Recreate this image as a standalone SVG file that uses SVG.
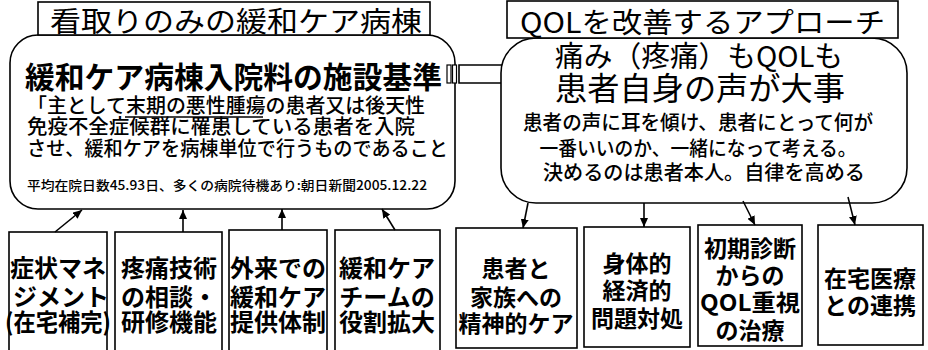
<svg xmlns="http://www.w3.org/2000/svg" width="928" height="350" viewBox="0 0 928 350">
<defs>
<style>
text{font-family:"Noto Sans CJK JP","Noto Sans CJK SC",sans-serif;fill:#000}
.frame{fill:#fff;stroke:#000;stroke-width:1.6}
.box{fill:#fff;stroke:#000;stroke-width:1.6}
.ttl{font-size:28px}
.hd{font-size:30px;font-weight:700}
.body{font-size:20px;font-weight:500}
.note{font-size:13px;font-weight:500}
.lbl{font-size:24px;font-weight:700;text-anchor:middle}
.lbr{font-size:23px;font-weight:700;text-anchor:middle}
.ctr{text-anchor:middle}
.conn{stroke:#000;stroke-width:1.6;fill:none}
</style>
<marker id="ah" markerUnits="userSpaceOnUse" markerWidth="9" markerHeight="8" refX="9" refY="4" orient="auto">
<path d="M0,0 L9,4 L0,8 z" fill="#000"/>
</marker>
</defs>
<rect width="928" height="350" fill="#fff"/>

<g id="left-panel">
<rect class="frame" x="10" y="35" width="445" height="174" rx="28" ry="28"/>
<rect class="box" x="38" y="2" width="392" height="33"/>
<text class="ttl" x="50" y="32" textLength="372" lengthAdjust="spacingAndGlyphs">看取りのみの緩和ケア病棟</text>
<text class="hd" x="25" y="88" textLength="417" lengthAdjust="spacingAndGlyphs">緩和ケア病棟入院料の施設基準</text>
<text class="body" x="27" y="113" textLength="398" lengthAdjust="spacingAndGlyphs">「主として末期の悪性腫瘍の患者又は後天性</text>
<line x1="125" y1="117" x2="263" y2="117" stroke="#000" stroke-width="1.4"/>
<text class="body" x="27" y="134" textLength="388" lengthAdjust="spacingAndGlyphs">免疫不全症候群に罹患している患者を入院</text>
<text class="body" x="27" y="156" textLength="421" lengthAdjust="spacingAndGlyphs">させ、緩和ケアを病棟単位で行うものであること</text>
<text class="note" x="27" y="190" textLength="400" lengthAdjust="spacingAndGlyphs">平均在院日数45.93日、多くの病院待機あり:朝日新聞2005.12.22</text>
</g>

<g id="big-arrow">
<rect x="447" y="65" width="4" height="18" fill="#fff" stroke="#000" stroke-width="1.2"/>
<rect x="452.5" y="65" width="4" height="18" fill="#fff" stroke="#000" stroke-width="1.2"/>
<polygon points="459,65 508,65 508,55 528,73.5 508,92 508,83 459,83" fill="#fff" stroke="#000" stroke-width="1.6"/>
</g>

<g id="right-panel">
<rect class="frame" x="501" y="38" width="406" height="165" rx="35" ry="35"/>
<rect class="box" x="507" y="1" width="391" height="37"/>
<text class="ttl" x="520" y="33" textLength="365" lengthAdjust="spacingAndGlyphs">QOLを改善するアプローチ</text>
<text class="ctr" x="699" y="67" textLength="288" lengthAdjust="spacingAndGlyphs" style="font-size:29px">痛み（疼痛）もQOLも</text>
<text class="ctr" x="700" y="100" textLength="290" lengthAdjust="spacingAndGlyphs" style="font-size:32px">患者自身の声が大事</text>
<text class="body ctr" x="698" y="130" textLength="350" lengthAdjust="spacingAndGlyphs">患者の声に耳を傾け、患者にとって何が</text>
<text class="body ctr" x="698" y="156" textLength="317" lengthAdjust="spacingAndGlyphs">一番いいのか、一緒になって考える。</text>
<text class="body ctr" x="704" y="180" textLength="322" lengthAdjust="spacingAndGlyphs">決めるのは患者本人。自律を高める</text>
</g>

<g id="box1">
<rect class="box" x="9" y="232" width="98" height="130"/>
<text class="lbl" x="58" y="277">症状マネ</text>
<text class="lbl" x="61" y="306">ジメント</text>
<text class="lbl" x="58" y="331" textLength="106" lengthAdjust="spacingAndGlyphs">(在宅補完)</text>
</g>
<g id="box2">
<rect class="box" x="115" y="232" width="107" height="130"/>
<text class="lbl" x="169" y="277">疼痛技術</text>
<text class="lbl" x="169" y="306">の相談・</text>
<text class="lbl" x="169" y="331">研修機能</text>
</g>
<g id="box3">
<rect class="box" x="229" y="230" width="98" height="132"/>
<text class="lbl" x="278" y="277">外来での</text>
<text class="lbl" x="278" y="306">緩和ケア</text>
<text class="lbl" x="278" y="331">提供体制</text>
</g>
<g id="box4">
<rect class="box" x="335" y="230" width="105" height="132"/>
<text class="lbl" x="387" y="277">緩和ケア</text>
<text class="lbl" x="387" y="306">チームの</text>
<text class="lbl" x="387" y="331">役割拡大</text>
</g>
<g id="box5">
<rect class="box" x="456" y="228" width="121" height="120"/>
<text class="lbr" x="516" y="277">患者と</text>
<text class="lbr" x="516" y="306">家族への</text>
<text class="lbr" x="516" y="332">精神的ケア</text>
</g>
<g id="box6">
<rect class="box" x="584" y="227" width="106" height="120"/>
<text class="lbr" x="637" y="272">身体的</text>
<text class="lbr" x="637" y="299">経済的</text>
<text class="lbr" x="637" y="327">問題対処</text>
</g>
<g id="box7">
<rect class="box" x="698" y="225" width="104" height="121"/>
<text class="lbr" x="750" y="257">初期診断</text>
<text class="lbr" x="750" y="284">からの</text>
<text class="lbr" x="750" y="311" textLength="100" lengthAdjust="spacingAndGlyphs">QOL重視</text>
<text class="lbr" x="750" y="339">の治療</text>
</g>
<g id="box8">
<rect class="box" x="818" y="225" width="105" height="120"/>
<text class="lbr" x="870" y="287">在宅医療</text>
<text class="lbr" x="870" y="314">との連携</text>
</g>

<g id="connectors">
<line class="conn" x1="55" y1="232" x2="82" y2="210" marker-end="url(#ah)"/>
<line class="conn" x1="183" y1="232" x2="183" y2="210" marker-end="url(#ah)"/>
<line class="conn" x1="282" y1="230" x2="282" y2="209" marker-end="url(#ah)"/>
<line class="conn" x1="395" y1="230" x2="382" y2="209" marker-end="url(#ah)"/>
<line class="conn" x1="528" y1="203" x2="523" y2="228" marker-end="url(#ah)"/>
<line class="conn" x1="644" y1="203" x2="644" y2="227" marker-end="url(#ah)"/>
<line class="conn" x1="743" y1="201" x2="755" y2="225" marker-end="url(#ah)"/>
<line class="conn" x1="848" y1="197" x2="855" y2="225" marker-end="url(#ah)"/>
</g>
</svg>
